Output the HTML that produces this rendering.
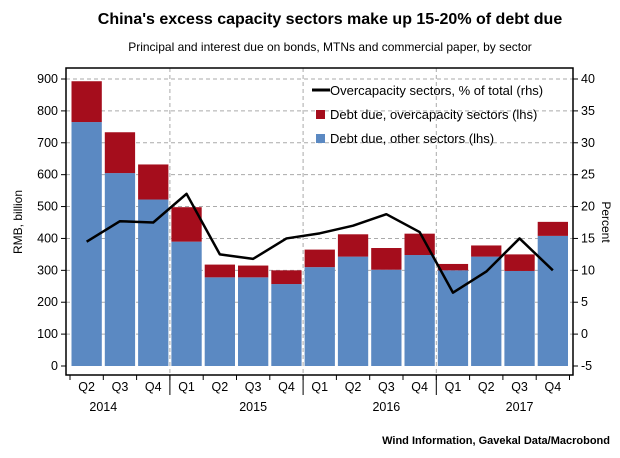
<!DOCTYPE html>
<html><head><meta charset="utf-8"><style>
body{margin:0;background:#fff;font-family:"Liberation Sans",sans-serif}
svg text{font-family:"Liberation Sans",sans-serif}
</style></head><body>
<svg width="620" height="453" viewBox="0 0 620 453" id="c">
<text x="330" y="24" text-anchor="middle" font-size="16" font-weight="bold">China's excess capacity sectors make up 15-20% of debt due</text>
<text x="330" y="51" text-anchor="middle" font-size="12">Principal and interest due on bonds, MTNs and commercial paper, by sector</text>
<text x="610" y="444" text-anchor="end" font-size="11" font-weight="bold">Wind Information, Gavekal Data/Macrobond</text>
<text transform="translate(22,222) rotate(-90)" text-anchor="middle" font-size="12">RMB, billion</text>
<text transform="translate(602,222) rotate(90)" text-anchor="middle" font-size="12">Percent</text>
<g id="grid"></g><g id="bars"></g><g id="line"></g><g id="axes"></g>
<g>
<line x1="312" y1="90" x2="330" y2="90" stroke="#000" stroke-width="3"/>
<text x="330" y="95" font-size="13">Overcapacity sectors, % of total (rhs)</text>
<rect x="316" y="110" width="9" height="9" fill="#a50d1c"/>
<text x="330" y="119" font-size="13">Debt due, overcapacity sectors (lhs)</text>
<rect x="316" y="134" width="9" height="9" fill="#5b89c2"/>
<text x="330" y="143" font-size="13">Debt due, other sectors (lhs)</text>
</g>
</svg>
<script>
const quarters=["Q2","Q3","Q4","Q1","Q2","Q3","Q4","Q1","Q2","Q3","Q4","Q1","Q2","Q3","Q4"];
const years=["2014","2015","2016","2017"];
const otherDebt=[765,605,522,390,278,278,257,310,343,302,348,300,343,298,408];
const overDebt=[128,128,110,108,40,37,43,55,70,68,67,20,35,52,44];
const pctLine=[14.5,17.7,17.5,22,12.5,11.8,15,15.8,17,18.8,16,6.5,9.8,15,10];
const leftTicks=[0,100,200,300,400,500,600,700,800,900];
const rightTicks=[-5,0,5,10,15,20,25,30,35,40];
const NS="http://www.w3.org/2000/svg";
const L=66,R=573,T=68,B=375,x0=70,band=33.3;
const yL=v=>366-v*(287/900);
const yR=v=>366-(v+5)*(287/45);
const xC=i=>x0+band*i+band/2;
function mk(tag,attrs,parent,txt){const e=document.createElementNS(NS,tag);for(const k in attrs)e.setAttribute(k,attrs[k]);if(txt!==undefined)e.textContent=txt;document.getElementById(parent).appendChild(e);return e;}
leftTicks.forEach(v=>{if(v>0){const g=mk('line',{x1:L,x2:R,y1:yL(v),y2:yL(v),stroke:'#aaa','stroke-dasharray':'4,3','stroke-width':1},'grid');

}});
[3,7,11].forEach(i=>{const xx=x0+band*i;const g=mk('line',{x1:xx,x2:xx,y1:T,y2:B,stroke:'#aaa','stroke-dasharray':'4,3'},'grid');

});
otherDebt.forEach((v,i)=>{const x=x0+band*i+1.5,w=band-3;
const b=mk('rect',{x:x,y:yL(v),width:w,height:yL(0)-yL(v),fill:'#5b89c2'},'bars');


const r=mk('rect',{x:x,y:yL(v+overDebt[i]),width:w,height:yL(v)-yL(v+overDebt[i]),fill:'#a50d1c'},'bars');

});
const p=mk('polyline',{points:pctLine.map((v,i)=>xC(i)+','+yR(v)).join(' '),fill:'none',stroke:'#000','stroke-width':2.5,'stroke-linejoin':'round'},'line');


const f=mk('path',{d:`M${L},${T}H${R}V${B}H${L}Z`,fill:'none',stroke:'#000','stroke-width':1.5},'axes');


leftTicks.forEach(v=>{mk('line',{x1:L-5,x2:L,y1:yL(v),y2:yL(v),stroke:'#000'},'axes');
const t=mk('text',{x:L-8,y:yL(v)+4,'text-anchor':'end','font-size':12.5},'axes',v);

});
rightTicks.forEach(v=>{mk('line',{x1:R,x2:R+5,y1:yR(v),y2:yR(v),stroke:'#000'},'axes');
const t=mk('text',{x:R+8,y:yR(v)+4,'font-size':12.5},'axes',v);

});
quarters.forEach((q,i)=>{mk('line',{x1:x0+band*i,x2:x0+band*i,y1:B,y2:B+5,stroke:'#000'},'axes');
const t=mk('text',{x:xC(i),y:B+16,'text-anchor':'middle','font-size':12.5},'axes',q);

});
mk('line',{x1:x0+band*15,x2:x0+band*15,y1:B,y2:B+5,stroke:'#000'},'axes');
const ys=[1,5.5,9.5,13.5];
years.forEach((y,i)=>{const t=mk('text',{x:x0+band*ys[i],y:B+36,'text-anchor':'middle','font-size':12.5},'axes',y);

});
[3,7,11].forEach(i=>mk('line',{x1:x0+band*i,x2:x0+band*i,y1:B,y2:B+20,stroke:'#000'},'axes'));
</script>
</body></html>
